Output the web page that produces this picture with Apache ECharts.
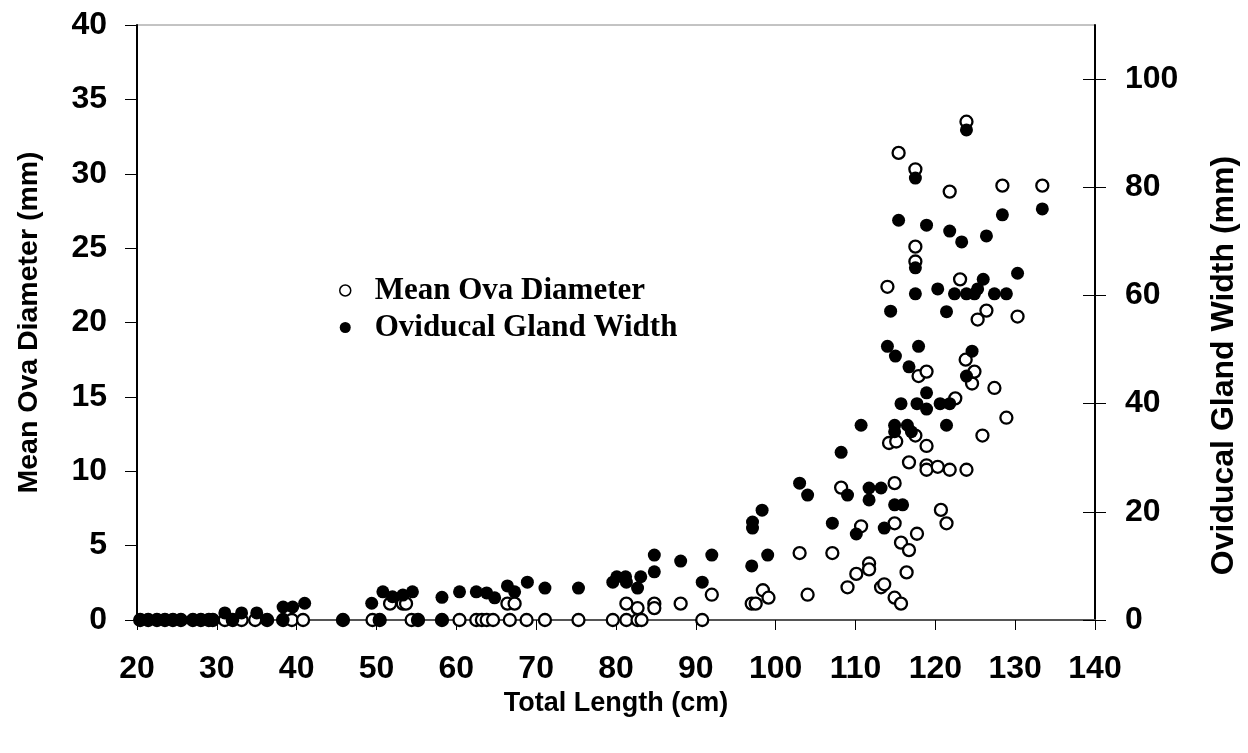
<!DOCTYPE html>
<html>
<head>
<meta charset="utf-8">
<script src="https://cdn.jsdelivr.net/npm/echarts@6/dist/echarts.min.js"></script>
<style>
  html, body { margin: 0; padding: 0; background: #fff; }
  #main { width: 1248px; height: 753px; }
</style>
</head>
<body>
<div id="main"></div>
<script>
// Mean ova diameter (left axis, mm) vs total length (cm)
var ovaDiameter = [
  [20.4, 0], [21.4, 0], [22.5, 0], [23.5, 0], [24.5, 0], [25.5, 0], [27, 0], [28, 0], [29, 0], [29.5, 0],
  [31, 0], [32, 0], [33.1, 0], [34.8, 0], [36.3, 0], [38.3, 0], [39.4, 0], [40.8, 0], [45.8, 0], [49.5, 0],
  [50.4, 0], [51.7, 1.1], [53.3, 1.1], [53.7, 1.1], [54.4, 0], [55.2, 0], [58.2, 0], [60.4, 0], [62.5, 0],
  [63.2, 0], [63.8, 0], [64.6, 0], [66.4, 1.1], [66.7, 0], [67.3, 1.1], [68.8, 0], [71.1, 0], [75.3, 0],
  [79.6, 0], [81.3, 0], [81.3, 1.1], [82.7, 0], [82.7, 0.8], [83.2, 0], [84.8, 1.1], [84.8, 0.8], [88.1, 1.1],
  [90.8, 0], [92, 1.7], [97, 1.1], [97.5, 1.1], [98.4, 2.0], [99.1, 1.5], [103, 4.5], [104, 1.7], [107.1, 4.5],
  [108.2, 8.9], [109, 2.2], [110.1, 3.1], [110.7, 6.3], [111.7, 3.8], [111.7, 3.4], [113.2, 2.2], [113.6, 2.4],
  [114, 22.4], [114.2, 11.9], [114.9, 9.2], [114.9, 6.5], [114.9, 1.5], [115.1, 12.0], [115.4, 31.4],
  [115.7, 5.2], [115.7, 1.1], [116.4, 3.2], [116.7, 10.6], [116.7, 4.7], [117.5, 12.4], [117.5, 30.3],
  [117.5, 25.1], [117.5, 24.1], [117.7, 5.8], [117.9, 16.4], [118.9, 11.7], [118.9, 10.4], [118.9, 10.1],
  [118.9, 16.7], [120.3, 10.3], [120.7, 7.4], [121.4, 6.5], [121.8, 10.1], [121.8, 28.8], [122.5, 14.9],
  [123.1, 22.9], [123.8, 17.5], [123.9, 10.1], [123.9, 33.5], [124.6, 15.9], [124.9, 16.7], [125.3, 20.2],
  [125.9, 12.4], [126.4, 20.8], [127.4, 15.6], [128.4, 29.2], [128.9, 13.6], [130.3, 20.4], [133.4, 29.2]
];

// Oviducal gland width (right axis, mm) vs total length (cm)
var glandWidth = [
  [20.4, 0], [21.4, 0], [22.5, 0], [23.5, 0], [24.5, 0], [25.5, 0], [27, 0], [28, 0], [29, 0], [29.5, 0],
  [31, 1.3], [32, 0], [33.1, 1.3], [35, 1.3], [36.3, 0], [38.3, 0], [38.3, 2.4], [39.5, 2.4], [41, 3.1],
  [45.8, 0], [49.4, 3.1], [50.4, 0], [50.8, 5.2], [52, 4.3], [53.3, 4.6], [54.5, 5.2], [55.2, 0], [58.2, 4.2],
  [58.2, 0], [60.4, 5.2], [62.5, 5.2], [63.8, 5], [64.8, 4.1], [66.4, 6.3], [67.3, 5.2], [68.9, 7.0],
  [71.1, 5.9], [75.3, 5.9], [79.6, 7.0], [80.1, 8.0], [81.2, 8.0], [81.3, 7.0], [82.7, 5.9], [83.1, 8.0],
  [84.8, 12], [84.8, 8.9], [88.1, 10.9], [90.8, 7.0], [92, 12], [97, 10], [97.1, 17], [97.1, 18.1],
  [98.3, 20.3], [99, 12], [103, 25.3], [104, 23.1], [107.1, 17.9], [108.2, 31], [109, 23.1], [110.1, 15.9],
  [110.7, 36], [111.7, 24.4], [111.7, 22.2], [113.2, 24.4], [113.6, 17], [114, 50.6], [114.4, 57.1],
  [114.9, 36], [114.9, 34.8], [114.9, 21.3], [115, 48.8], [115.4, 73.9], [115.7, 40], [115.9, 21.3],
  [116.5, 36], [116.7, 46.8], [117, 34.8], [117.5, 81.7], [117.5, 65.1], [117.5, 60.3], [117.7, 40],
  [117.9, 50.6], [118.9, 73], [118.9, 42], [118.9, 39], [120.3, 61.2], [120.6, 40], [121.4, 57], [121.4, 36],
  [121.8, 71.9], [121.8, 40], [122.4, 60.3], [123.3, 69.9], [123.9, 90.6], [123.9, 60.3], [123.9, 45.1],
  [124.6, 49.7], [124.9, 60.3], [125.3, 61.2], [126, 63], [126.4, 71], [127.4, 60.3], [128.4, 74.9],
  [128.9, 60.3], [130.3, 64.1], [133.4, 76]
];

var rightTicks = [0, 20, 40, 60, 80, 100];

var chartDom = document.getElementById('main');
var myChart = echarts.init(chartDom);
var option;

function boldFont(size) {
  return {
    fontFamily: 'Liberation Sans',
    fontWeight: 'bold',
    fontSize: size,
    color: '#000'
  };
}

option = {
  animation: false,
  backgroundColor: '#fff',
  grid: {
    left: 137,
    right: 153,
    top: 25,
    bottom: 133,
    show: true,
    borderColor: '#888',
    borderWidth: 1
  },
  legend: {
    orient: 'vertical',
    left: 334,
    top: 270,
    itemWidth: 11,
    itemHeight: 11,
    itemGap: 6,
    textStyle: {
      fontFamily: 'Liberation Serif',
      fontWeight: 'bold',
      fontSize: 31,
      color: '#000',
      padding: [0, 0, 0, 19]
    },
    data: [
      { name: 'Mean Ova Diameter', icon: 'circle', itemStyle: { color: '#fff', borderColor: '#000', borderWidth: 1.5 } },
      { name: 'Oviducal Gland Width', icon: 'circle', itemStyle: { color: '#000' } }
    ]
  },
  xAxis: {
    type: 'value',
    min: 20,
    max: 140,
    interval: 10,
    name: 'Total Length (cm)',
    nameLocation: 'middle',
    nameGap: 66,
    nameTextStyle: boldFont(27),
    axisLine: { onZero: false, lineStyle: { color: '#555', width: 2 } },
    axisTick: { show: true, length: 10, lineStyle: { color: '#000' } },
    axisLabel: Object.assign({ margin: 33 }, boldFont(32)),
    splitLine: { show: false }
  },
  yAxis: [
    {
      type: 'value',
      min: 0,
      max: 40,
      interval: 5,
      position: 'left',
      name: 'Mean Ova Diameter (mm)',
      nameLocation: 'middle',
      nameGap: 93,
      nameTextStyle: boldFont(28.5),
      axisLine: { show: true, lineStyle: { color: '#000', width: 2 } },
      axisTick: { show: true, length: 12, lineStyle: { color: '#000' } },
      axisLabel: Object.assign({ margin: 30 }, boldFont(32)),
      splitLine: { show: false }
    },
    {
      type: 'value',
      min: 0,
      max: 110,
      interval: 20,
      position: 'right',
      name: 'Oviducal Gland Width (mm)',
      nameLocation: 'middle',
      nameGap: 113,
      nameTextStyle: Object.assign({ padding: [0, 86, 0, 0] }, boldFont(32)),
      axisLine: { show: true, lineStyle: { color: '#000', width: 2 } },
      axisTick: { show: true, length: 11, customValues: rightTicks, lineStyle: { color: '#000' } },
      axisLabel: Object.assign({ margin: 30, customValues: rightTicks }, boldFont(32)),
      splitLine: { show: false }
    },
    {
      // inner half of the right-hand tick marks
      type: 'value',
      min: 0,
      max: 110,
      interval: 20,
      position: 'right',
      axisLine: { show: false },
      axisTick: { show: true, inside: true, length: 12, customValues: rightTicks, lineStyle: { color: '#000' } },
      axisLabel: { show: false },
      splitLine: { show: false }
    }
  ],
  series: [
    {
      name: 'Mean Ova Diameter',
      type: 'scatter',
      yAxisIndex: 0,
      symbol: 'circle',
      symbolSize: 12,
      itemStyle: { color: '#fff', borderColor: '#000', borderWidth: 2.3, opacity: 1 },
      data: ovaDiameter
    },
    {
      name: 'Oviducal Gland Width',
      type: 'scatter',
      yAxisIndex: 1,
      symbol: 'circle',
      symbolSize: 13,
      itemStyle: { color: '#000', opacity: 1 },
      data: glandWidth
    }
  ]
};

option && myChart.setOption(option);
</script>
</body>
</html>
